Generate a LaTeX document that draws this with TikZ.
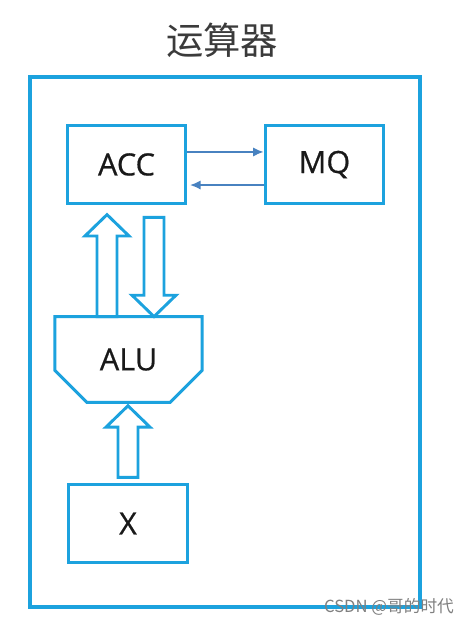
\documentclass[tikz,border=0pt]{standalone}
\usepackage{fontspec}
\setmainfont{Open Sans}
\newfontfamily\labelfont{Open Sans}[FakeBold=0.6]
\newfontfamily\cjk{Noto Sans CJK SC}
\usetikzlibrary{arrows.meta,calc}

\definecolor{frameblue}{RGB}{28,162,222}
\definecolor{linkblue}{RGB}{72,130,192}
\definecolor{inkgray}{RGB}{25,25,25}

\tikzset{
  box/.style={draw=frameblue, line width=2.2pt, minimum width=89pt, minimum height=58pt,
    text=inkgray, font=\labelfont\fontsize{23}{23}\selectfont},
  link/.style={draw=linkblue, line width=1.4pt, -{Latex[length=8pt,width=7pt]}},
  fatup/.style={draw=frameblue, line width=2.2pt, to path={
    let \p1=(\tikztostart), \p2=(\tikztotarget) in
    (\x1-7.5pt,\y1) -- (\x1-7.5pt,\y2-16pt) -- (\x1-16.5pt,\y2-16pt) -- (\x1,\y2)
    -- (\x1+16.5pt,\y2-16pt) -- (\x1+7.5pt,\y2-16pt) -- (\x1+7.5pt,\y1) -- cycle}},
  fatdown/.style={draw=frameblue, line width=2.2pt, to path={
    let \p1=(\tikztostart), \p2=(\tikztotarget) in
    (\x1-7.5pt,\y1) -- (\x1-7.5pt,\y2+16pt) -- (\x1-16.5pt,\y2+16pt) -- (\x1,\y2)
    -- (\x1+16.5pt,\y2+16pt) -- (\x1+7.5pt,\y2+16pt) -- (\x1+7.5pt,\y1) -- cycle}}
}

\begin{document}
\begin{tikzpicture}[x=0.75pt,y=-0.75pt]
\useasboundingbox[fill=white] (0,0) rectangle (473,627);

% outer frame and title
\node[draw=frameblue, line width=3pt, minimum width=292pt, minimum height=397pt] (frame) at (225,342) {};
\node[text=inkgray!85, font=\cjk\fontsize{28}{28}\selectfont] (title) at (222,40) {运算器};

% registers
\node[box] (acc) at (126.5,164.5) {ACC};
\node[box] (mq) at (324.5,164.5) {MQ};
\node[box] (x) at (128,523.5) {X};

% ALU
\node[minimum width=110pt, minimum height=64pt, text=inkgray, font=\labelfont\fontsize{23}{23}\selectfont] (alu) at (128.5,359.5) {ALU};
\draw[frameblue, line width=2.2pt] (alu.north west) -- (alu.north east)
  -- ([yshift=24pt]alu.south east) -- ([xshift=-24pt]alu.south east)
  -- ([xshift=24pt]alu.south west) -- ([yshift=24pt]alu.south west) -- cycle;

% data paths
\draw[link] ([yshift=9.4pt]acc.east) -- ([yshift=9.4pt]mq.west);
\draw[link] ([yshift=-15.4pt]mq.west) -- ([yshift=-15.4pt,xshift=2pt]acc.east);

\coordinate (upx) at (107,0);
\coordinate (downx) at (154,0);
\draw[fatup] (alu.north -| upx) to ([yshift=-7.5pt]acc.south -| upx);
\draw[fatdown] ([yshift=-9.5pt]acc.south -| downx) to (alu.north -| downx);
\draw[fatup] ([yshift=4.5pt]x.north) to ([yshift=-2.5pt]alu.south);

\node[text=gray, font=\cjk\fontsize{12.5}{12.5}\selectfont] (mark) at (389,607) {CSDN @哥的时代};
\end{tikzpicture}
\end{document}
